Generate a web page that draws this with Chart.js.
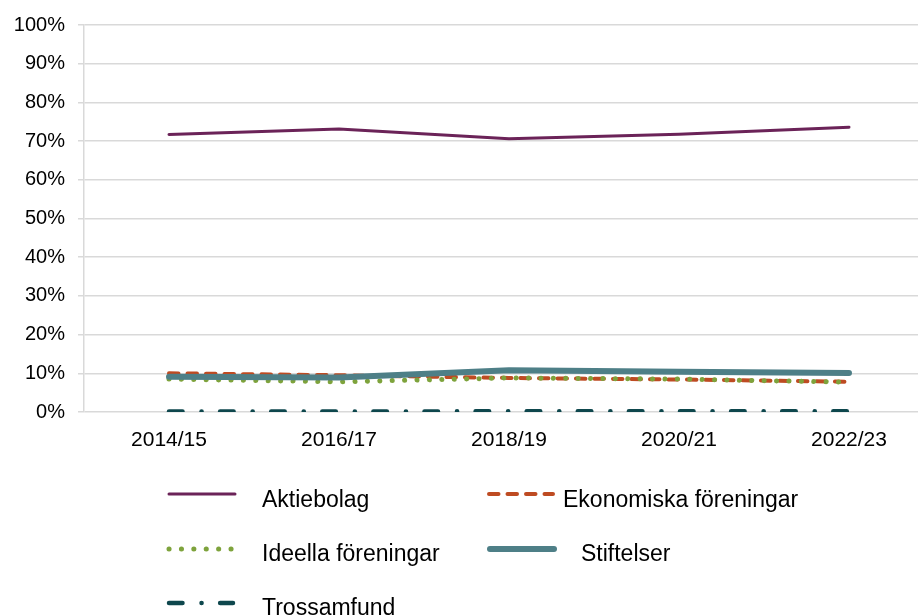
<!DOCTYPE html>
<html>
<head>
<meta charset="utf-8">
<script src="https://cdn.jsdelivr.net/npm/chart.js@4/dist/chart.umd.min.js"></script>
<style>
  html, body { margin: 0; padding: 0; background: #fff; overflow: hidden; }
  #wrap { position: relative; width: 918px; height: 615px; overflow: hidden; }
</style>
</head>
<body>
<div id="wrap"><canvas id="chart" width="934" height="615"></canvas></div>
<script>
// Andel per organisationsform (%)
const years = ['2014/15', '2016/17', '2018/19', '2020/21', '2022/23'];
const aktiebolag = [71.7, 73.1, 70.6, 71.8, 73.6];
const ekonomiska = [10.0, 9.5, 8.8, 8.4, 7.8];
const ideella = [8.5, 7.8, 8.8, 8.5, 7.7];
const stiftelser = [9.1, 8.9, 10.8, 10.4, 10.1];
const trossamfund = [0.1, 0.1, 0.2, 0.2, 0.2];
const yTicks = [0, 10, 20, 30, 40, 50, 60, 70, 80, 90, 100];

const FONT = '"Liberation Sans", Arial, sans-serif';

// legend drawn under the plot, two columns like the original
const legendSpots = [
    { x1: 169, x2: 235, tx: 262, y: 494, ty: 507 },
    { x1: 489, x2: 553, tx: 563, y: 494, ty: 507 },
    { x1: 169, x2: 235, tx: 262, y: 549, ty: 561 },
    { x1: 490, x2: 554, tx: 581, y: 549, ty: 561 },
    { x1: 169, x2: 233, tx: 262, y: 603, ty: 615 }
];

const legendPlugin = {
    id: 'sideLegend',
    afterDraw(chart) {
        const ctx = chart.ctx;
        chart.data.datasets.forEach((ds, i) => {
            const s = legendSpots[i];
            if (!s) return;
            ctx.save();
            ctx.strokeStyle = ds.borderColor;
            ctx.lineWidth = ds.borderWidth;
            ctx.lineCap = ds.borderCapStyle || 'butt';
            ctx.setLineDash(ds.borderDash || []);
            ctx.beginPath();
            ctx.moveTo(s.x1, s.y);
            ctx.lineTo(s.x2, s.y);
            ctx.stroke();
            ctx.restore();

            ctx.save();
            ctx.fillStyle = '#000';
            ctx.font = '23px ' + FONT;
            ctx.textBaseline = 'alphabetic';
            ctx.textAlign = 'left';
            ctx.fillText(ds.label, s.tx, s.ty);
            ctx.restore();
        });
    }
};

const ctx = document.getElementById('chart').getContext('2d');
new Chart(ctx, {
    type: 'line',
    data: {
        labels: years,
        datasets: [
            {
                label: 'Aktiebolag', data: aktiebolag,
                borderColor: '#6B2358', borderWidth: 3, borderCapStyle: 'round',
                order: 5
            },
            {
                label: 'Ekonomiska föreningar', data: ekonomiska,
                borderColor: '#BE4B22', borderWidth: 4, borderCapStyle: 'round',
                borderDash: [9.5, 9],
                order: 4
            },
            {
                label: 'Ideella föreningar', data: ideella,
                borderColor: '#7EA33C', borderWidth: 5, borderCapStyle: 'round',
                borderDash: [0.1, 12.3],
                order: 3
            },
            {
                label: 'Stiftelser', data: stiftelser,
                borderColor: '#4E7F87', borderWidth: 6, borderCapStyle: 'round',
                order: 2
            },
            {
                label: 'Trossamfund', data: trossamfund,
                borderColor: '#0E474D', borderWidth: 4.5, borderCapStyle: 'round',
                borderDash: [13.5, 19, 0.1, 18.5],
                order: 1
            }
        ]
    },
    options: {
        responsive: false,
        animation: false,
        devicePixelRatio: 1,
        layout: { padding: { top: 24, right: 0, left: 0, bottom: 153 } },
        elements: {
            point: { radius: 0, hoverRadius: 0 },
            line: { tension: 0, fill: false }
        },
        plugins: {
            legend: { display: false },
            tooltip: { enabled: false }
        },
        scales: {
            x: {
                offset: true,
                grid: { display: false, drawTicks: false },
                border: { display: false },
                ticks: { color: '#000', font: { family: FONT, size: 21 }, padding: 16, maxRotation: 0 },
                afterFit(scale) { scale.height = 50; }
            },
            y: {
                min: 0, max: 100,
                afterBuildTicks(scale) { scale.ticks = yTicks.map(v => ({ value: v })); },
                grid: { color: '#D9D9D9', lineWidth: 1.5, tickLength: 6 },
                border: { display: true, color: '#D9D9D9', width: 1.5 },
                ticks: {
                    color: '#000', font: { family: FONT, size: 20 }, padding: 13,
                    callback: v => v + '%'
                },
                afterFit(scale) { scale.width = 84; }
            }
        }
    },
    plugins: [legendPlugin]
});
</script>
</body>
</html>
